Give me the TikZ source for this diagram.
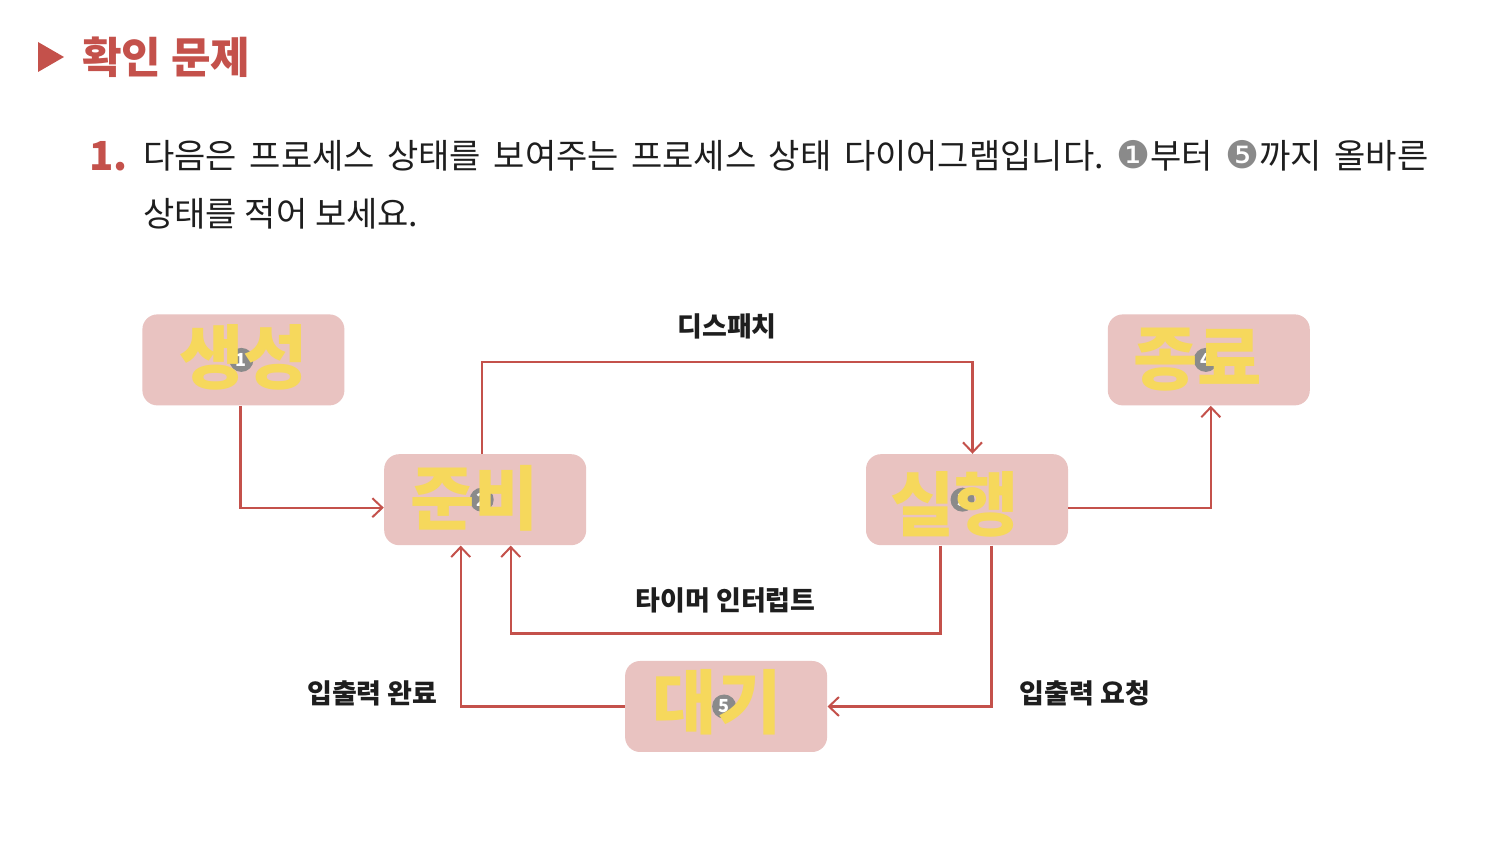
\documentclass[tikz,border=0pt]{standalone}
\usepackage{fontspec}
\setmainfont{Noto Sans CJK KR}
\newfontfamily\symfont{DejaVu Sans}
\usepackage{xcolor}
\usepackage{tikz}
\usetikzlibrary{arrows.meta,calc,positioning}
\definecolor{Brick}{HTML}{C4514B}
\definecolor{Blush}{HTML}{E9C3C1}
\definecolor{Sun}{HTML}{F6D85C}
\definecolor{Slate}{HTML}{8A8A8A}
\definecolor{Ink}{HTML}{1E1E1E}
\newcommand{\numcirc}[1]{{\symfont\fontsize{19}{19}\selectfont\color{Slate}#1}}
\frenchspacing

\begin{document}
\begin{tikzpicture}[
    statebox/.style={fill=Blush,rounded corners=7.5pt,minimum width=101pt,minimum height=45.5pt,inner sep=0pt},
    numdot/.style={circle,fill=Slate,text=white,inner sep=0pt,minimum size=12pt,
      font=\bfseries\fontsize{9}{9}\selectfont},
    answer/.style={text=Sun,inner sep=0pt,font=\bfseries\fontsize{35}{35}\selectfont},
    lbl/.style={inner sep=0pt,text=Ink,font=\bfseries\fontsize{13.5}{14}\selectfont},
    body/.style={inner sep=0pt,anchor=west,text=Ink,font=\fontsize{17}{19}\selectfont},
    flow/.style={-{Straight Barb[length=5pt,width=9.5pt,line width=1pt]},line width=1.1pt,draw=Brick}
]
\fill[white] (0,0) rectangle (756pt,-430pt);
\useasboundingbox (0,0) rectangle (756pt,-430pt);

\fill[Brick] (19pt,-21pt) -- (32pt,-28.5pt) -- (19pt,-36pt) -- cycle;
\node[inner sep=0pt,anchor=west,text=Brick,font=\bfseries\fontsize{21.5}{23}\selectfont] (title) at (41pt,-28.5pt) {확인 문제};

\node[inner sep=0pt,anchor=west,text=Brick,font=\bfseries\fontsize{20}{22}\selectfont] (qnum) at (44.5pt,-78pt) {1.};
\node[body] (line1) at (71.5pt,-78pt) {\makebox[642.5pt][s]{다음은 프로세스 상태를 보여주는 프로세스 상태 다이어그램입니다. \numcirc{❶}부터 \numcirc{❺}까지 올바른}};
\node[body] (line2) at (71.5pt,-107pt) {상태를 적어 보세요.};

\node[statebox,anchor=north west] (create) at (71pt,-157pt) {};
\node[statebox,below right=24pt and 19.5pt of create] (ready) {};
\node[statebox,right=139.5pt of ready] (running) {};
\node[statebox,above right=24pt and 19.5pt of running] (exit) {};
\coordinate (mid) at ($(ready.south)!0.5!(running.south)$);
\node[statebox,below=57.5pt of mid] (wait) {};

\node[numdot,xshift=-1pt] (dot1) at (create.center) {1};
\node[numdot,xshift=-1.75pt] (dot2) at (ready.center) {2};
\node[numdot,xshift=-2.25pt] (dot3) at (running.center) {3};
\node[numdot,xshift=-1.5pt] (dot4) at (exit.center) {4};
\node[numdot,xshift=-1pt] (dot5) at (wait.center) {5};

\node[answer,yshift=1.25pt] (ans1) at (create.center) {생성};
\node[answer,xshift=-5.25pt,yshift=0.75pt] (ans2) at (ready.center) {준비};
\node[answer,xshift=-6.25pt,yshift=-2.25pt] (ans3) at (running.center) {실행};
\node[answer,xshift=-5.5pt] (ans4) at (exit.center) {종료};
\node[answer,xshift=-4.5pt,yshift=2pt] (ans5) at (wait.center) {대기};

\draw[flow] ([xshift=-1.5pt]create.south) |- ([yshift=-4pt]ready.west);
\draw[flow] ([xshift=-1.75pt]ready.north) -- ++(0,46pt) -| node[pos=0.25,above=11pt,lbl]{디스패치} ([xshift=2.75pt]running.north);
\draw[flow] ([yshift=-4pt]running.east) -| ([xshift=1pt]exit.south);
\draw[flow] ([xshift=-13.25pt]running.south) -- ++(0,-44pt) -| node[pos=0.25,above=9.5pt,lbl]{타이머 인터럽트} ([xshift=12.75pt]ready.south);
\draw[flow] ([xshift=12.25pt]running.south) |- node[pos=0.5,anchor=west,xshift=13.5pt,yshift=6.5pt,lbl]{입출력 요청} (wait.east);
\draw[flow] (wait.west) -| node[pos=0.5,anchor=east,xshift=-11pt,yshift=6.5pt,lbl]{입출력 완료} ([xshift=-12.25pt]ready.south);
\end{tikzpicture}
\end{document}
